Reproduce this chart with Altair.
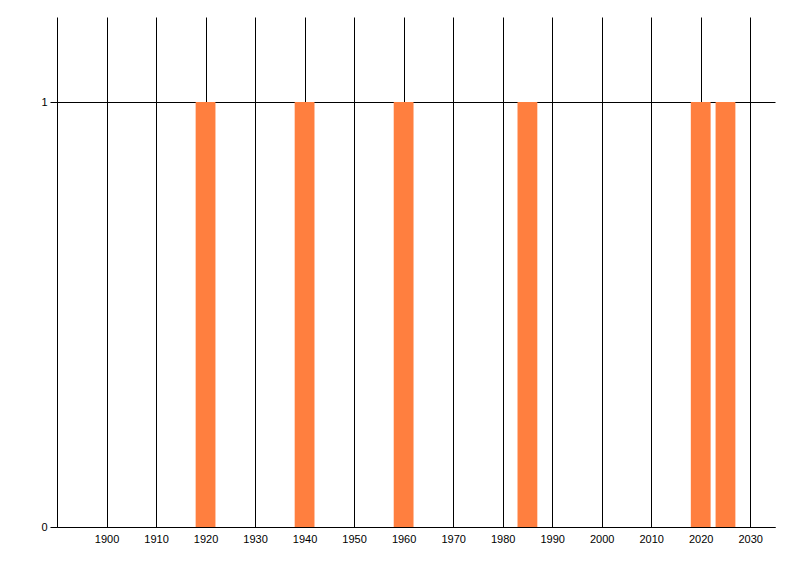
import altair as alt
import pandas as pd

years = [1920, 1940, 1960, 1985, 2020, 2025]
counts = [1, 1, 1, 1, 1, 1]
x_ticks = list(range(1900, 2031, 10))
y_ticks = [0, 1]

df = pd.DataFrame({"year": years, "count": counts})

FONT = "Liberation Sans"

bars = alt.Chart(df).transform_calculate(
    x0="datum.year - 2", x1="datum.year + 2", base="0"
).mark_bar(color="#FF7F3F", opacity=1).encode(
    x=alt.X("x0:Q", scale=alt.Scale(domain=[1890, 2035], nice=False, zero=False),
            axis=alt.Axis(values=x_ticks, format="d", title=None, grid=True,
                          gridColor="black", gridOpacity=1, gridWidth=1,
                          ticks=False, domainColor="black", labelColor="black",
                          labelFont=FONT, labelFontSize=11, labelPadding=6,
                          labelFlush=False)),
    x2="x1:Q",
    y=alt.Y("count:Q", scale=alt.Scale(domain=[0, 1.2], nice=False),
            axis=alt.Axis(values=y_ticks, format="d", title=None, grid=True,
                          gridColor="black", gridOpacity=1, gridWidth=1,
                          tickSize=7, tickColor="black", domainColor="black",
                          labelColor="black", labelFont=FONT, labelFontSize=11,
                          labelPadding=3)),
    y2="base:Q",
)

chart = bars.properties(
    width=718, height=510,
    padding={"left": 49, "top": 9, "right": 16, "bottom": 38},
    autosize=alt.AutoSizeParams(type="none"),
).configure_view(stroke=None).configure_axis(zindex=0)

chart.save("out.html", embed_options={"renderer": "svg", "actions": False})
